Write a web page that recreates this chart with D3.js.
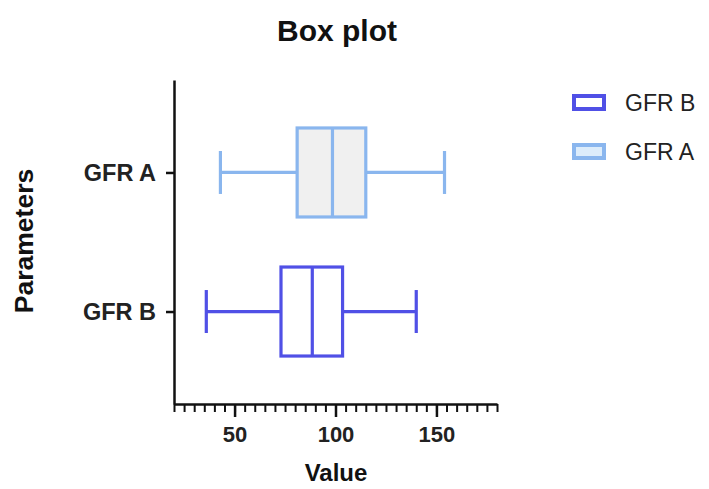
<!DOCTYPE html>
<html>
<head>
<meta charset="utf-8">
<script src="https://cdn.jsdelivr.net/npm/d3@7"></script>
<style>
  body { margin: 0; background: #fff; }
  svg { font-family: "Liberation Sans", Arial, sans-serif; }
</style>
</head>
<body>
<script>
    // categories and box stats
    var categories = ["GFR B", "GFR A"];
    var whiskerLow = [36, 43];
    var q1 = [73, 81];
    var median = [88.5, 98.5];
    var q3 = [103.5, 115];
    var whiskerHigh = [140, 154];
    var colors = ["#5050e6", "#8ab6ee"];
    var fills = ["#ffffff", "#f0f0f0"];

    var xDomain = [20, 180];
    var majorTicks = [50, 100, 150];
    var minorTicks = d3.range(20, 181, 5);

    // legend order, top to bottom
    var legendOrder = [0, 1];

    var width = 709;
    var height = 489;

    var svg = d3.select("body")
        .append("svg")
        .attr("width", width)
        .attr("height", height);

    var xScale = d3.scaleLinear()
        .domain(xDomain)
        .range([174, 497]);

    var yScale = d3.scalePoint()
        .domain(categories)
        .range([404, 80])
        .padding(0.665);

    var boxHalf = 44.5;
    var capHalf = 21.5;

    // minor ticks on x
    svg.append("g")
        .attr("transform", "translate(0,404)")
        .call(d3.axisBottom(xScale).tickValues(minorTicks).tickSize(8).tickFormat(""))
        .call(function (g) {
            g.select(".domain").remove();
            g.selectAll("line").attr("stroke", "#111").attr("stroke-width", 2);
        });

    // major ticks on x
    var xAxis = svg.append("g")
        .attr("transform", "translate(0,404)")
        .call(d3.axisBottom(xScale).tickValues(majorTicks).tickSize(13).tickPadding(9).tickSizeOuter(0));
    xAxis.select(".domain").attr("stroke", "#111").attr("stroke-width", 2.5);
    xAxis.selectAll("line").attr("stroke", "#111").attr("stroke-width", 2.5);
    xAxis.selectAll("text")
        .attr("fill", "#222")
        .style("font-size", "22px")
        .style("font-weight", "bold");

    // y axis
    var yAxis = svg.append("g")
        .attr("transform", "translate(174,0)")
        .call(d3.axisLeft(yScale).tickSize(8).tickPadding(10).tickSizeOuter(0));
    yAxis.select(".domain").attr("stroke", "#111").attr("stroke-width", 2.5);
    yAxis.selectAll("line").attr("stroke", "#111").attr("stroke-width", 2.5);
    yAxis.selectAll("text")
        .attr("fill", "#222")
        .style("font-size", "23.5px")
        .style("font-weight", "bold");

    // boxes
    var boxes = svg.selectAll(".box")
        .data(categories)
        .enter()
        .append("g")
        .attr("class", "box")
        .attr("stroke", function (d, i) { return colors[i]; })
        .attr("stroke-width", 3.2)
        .attr("fill", "none");

    boxes.append("line")
        .attr("x1", function (d, i) { return xScale(whiskerLow[i]); })
        .attr("x2", function (d, i) { return xScale(q1[i]); })
        .attr("y1", function (d) { return yScale(d); })
        .attr("y2", function (d) { return yScale(d); });

    boxes.append("line")
        .attr("x1", function (d, i) { return xScale(q3[i]); })
        .attr("x2", function (d, i) { return xScale(whiskerHigh[i]); })
        .attr("y1", function (d) { return yScale(d); })
        .attr("y2", function (d) { return yScale(d); });

    boxes.append("line")
        .attr("x1", function (d, i) { return xScale(whiskerLow[i]); })
        .attr("x2", function (d, i) { return xScale(whiskerLow[i]); })
        .attr("y1", function (d) { return yScale(d) - capHalf; })
        .attr("y2", function (d) { return yScale(d) + capHalf; });

    boxes.append("line")
        .attr("x1", function (d, i) { return xScale(whiskerHigh[i]); })
        .attr("x2", function (d, i) { return xScale(whiskerHigh[i]); })
        .attr("y1", function (d) { return yScale(d) - capHalf; })
        .attr("y2", function (d) { return yScale(d) + capHalf; });

    boxes.append("rect")
        .attr("x", function (d, i) { return xScale(q1[i]); })
        .attr("y", function (d) { return yScale(d) - boxHalf; })
        .attr("width", function (d, i) { return xScale(q3[i]) - xScale(q1[i]); })
        .attr("height", boxHalf * 2)
        .attr("fill", function (d, i) { return fills[i]; });

    boxes.append("line")
        .attr("x1", function (d, i) { return xScale(median[i]); })
        .attr("x2", function (d, i) { return xScale(median[i]); })
        .attr("y1", function (d) { return yScale(d) - boxHalf; })
        .attr("y2", function (d) { return yScale(d) + boxHalf; });

    // titles
    svg.append("text")
        .attr("x", 337)
        .attr("y", 41)
        .attr("text-anchor", "middle")
        .attr("fill", "#111")
        .style("font-size", "30px")
        .style("font-weight", "bold")
        .text("Box plot");

    svg.append("text")
        .attr("x", 336)
        .attr("y", 481)
        .attr("text-anchor", "middle")
        .attr("fill", "#111")
        .style("font-size", "24px")
        .style("font-weight", "bold")
        .text("Value");

    svg.append("text")
        .attr("transform", "translate(33,241) rotate(-90)")
        .attr("text-anchor", "middle")
        .attr("fill", "#111")
        .style("font-size", "26.5px")
        .style("font-weight", "bold")
        .text("Parameters");

    // legend
    var legend = svg.selectAll(".legend")
        .data(legendOrder)
        .enter()
        .append("g")
        .attr("class", "legend")
        .attr("transform", function (d, i) { return "translate(574," + (96 + i * 49) + ")"; });

    legend.append("rect")
        .attr("width", 30)
        .attr("height", 13)
        .attr("fill", function (d) { return d == 1 ? "#dcecfb" : "#fff"; })
        .attr("stroke", function (d) { return colors[d]; })
        .attr("stroke-width", 4);

    legend.append("text")
        .attr("x", 51)
        .attr("y", 15)
        .attr("fill", "#222")
        .style("font-size", "23px")
        .text(function (d) { return categories[d]; });
</script>
</body>
</html>
